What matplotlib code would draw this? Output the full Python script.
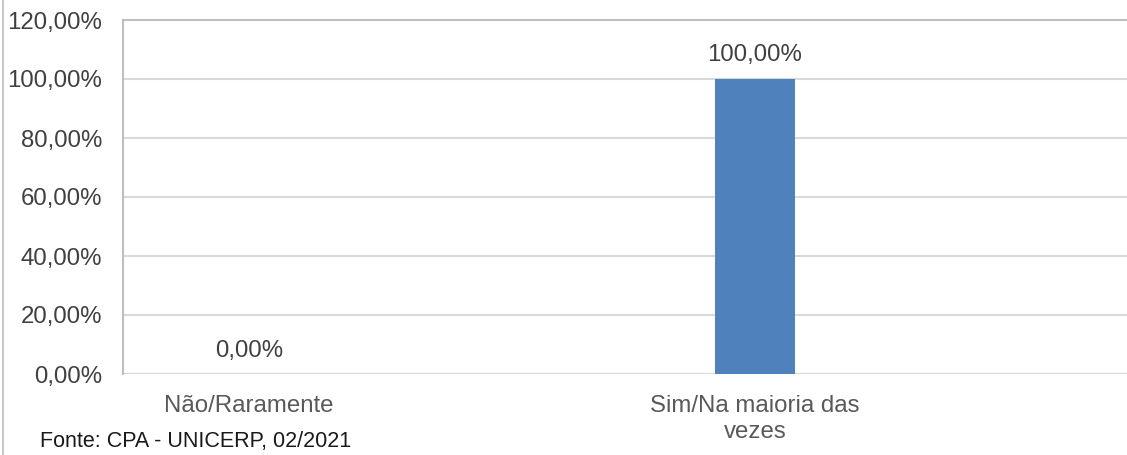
import matplotlib.pyplot as plt
from matplotlib.lines import Line2D

categories = ["Não/Raramente", "Sim/Na maioria das\nvezes"]
values = [0.0, 100.0]
yticks = [0, 20, 40, 60, 80, 100, 120]

plt.rcParams['font.family'] = ['Liberation Sans', 'DejaVu Sans']

fig = plt.figure(figsize=(11.27, 4.55), dpi=100)
ax = fig.add_axes([123 / 1127, 1 - 374 / 455, 1 - 123 / 1127, (374 - 20) / 455])

x = list(range(len(categories)))
ax.bar(x, values, width=0.158, color='#4F81BD', zorder=3)

for xi, v in zip(x, values):
    ax.annotate(f"{v:.2f}%".replace('.', ','), (xi, v), xytext=(0, 9),
                textcoords='offset points', ha='center', va='bottom',
                fontsize=17.3, color='#404040')

ax.set_xlim(-0.249, 1.735)
ax.set_ylim(0, 120)
ax.set_yticks(yticks)
ax.set_yticklabels([f"{t:.2f}%".replace('.', ',') for t in yticks], fontsize=17.3, color='#404040')
ax.set_xticks(x)
ax.set_xticklabels(categories, fontsize=17.3, color='#595959', linespacing=1.25)
ax.tick_params(axis='both', length=0)
ax.tick_params(axis='y', pad=15)
ax.tick_params(axis='x', pad=15)

ax.grid(axis='y', color='#D9D9D9', linewidth=1.5, zorder=0)
for s in ['right', 'bottom']:
    ax.spines[s].set_visible(False)
ax.spines['top'].set_color('#BFBFBF')
ax.spines['top'].set_linewidth(1.5)
ax.spines['left'].set_color('#BFBFBF')
ax.spines['left'].set_linewidth(1.5)
ax.axhline(0, color='#D9D9D9', linewidth=1.5, zorder=2)

fig.add_artist(Line2D([3 / 1127, 3 / 1127], [0, 1], color='#C8C8C8', linewidth=1.5))
fig.text(40 / 1127, 1 - 442 / 455, "Fonte: CPA - UNICERP, 02/2021", fontsize=15.5,
         color='#1a1a1a', va='center', ha='left')

fig.savefig('out.png', dpi=100)
